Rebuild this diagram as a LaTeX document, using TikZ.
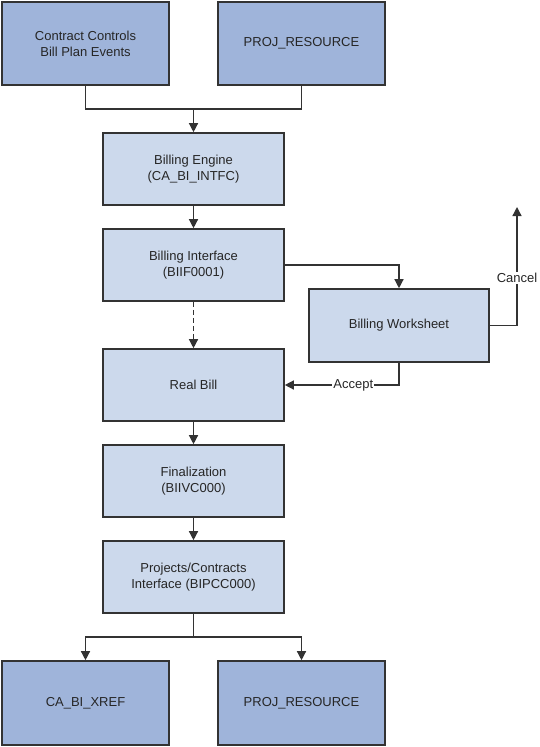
\documentclass[tikz,border=0pt]{standalone}
\usepackage{fontspec}
\setmainfont{Liberation Sans}
\usetikzlibrary{arrows.meta}

\definecolor{tabfill}{RGB}{159,180,218}
\definecolor{stepfill}{RGB}{204,217,236}
\definecolor{edgegray}{RGB}{51,51,51}

\tikzset{
    tablebox/.style={draw=edgegray, line width=1.6pt, fill=tabfill, minimum width=167pt, minimum height=83pt, align=center, inner sep=0pt},
    stepbox/.style={draw=edgegray, line width=1.6pt, fill=stepfill, minimum width=181pt, minimum height=72pt, align=center, inner sep=0pt},
    flow/.style={draw=edgegray, line width=1.3pt, -{Triangle[length=9pt,width=9pt]}},
    wire/.style={draw=edgegray, line width=1.3pt},
    tag/.style={fill=white, inner sep=1pt}
}

\begin{document}
\begin{tikzpicture}[x=1pt, y=-1pt, font=\fontsize{13}{16}\selectfont, text=black!85]
    \useasboundingbox (0,0) rectangle (539,747);

    % Quelltabellen oben
    \node[tablebox] (ccbp) at (85.5,43.5) {Contract Controls\\Bill Plan Events};
    \node[tablebox] (projtop) at (301.5,43.5) {PROJ\_RESOURCE};

    % Verarbeitungsschritte
    \node[stepbox] (engine) at (193.5,169) {Billing Engine\\(CA\_BI\_INTFC)};
    \node[stepbox] (bif) at (193.5,265) {Billing Interface\\(BIIF0001)};
    \node[stepbox, minimum width=180pt, minimum height=73pt] (work) at (399,325.5) {Billing Worksheet};
    \node[stepbox] (real) at (193.5,385) {Real Bill};
    \node[stepbox] (fin) at (193.5,481) {Finalization\\(BIIVC000)};
    \node[stepbox] (bipcc) at (193.5,577) {Projects/Contracts\\Interface (BIPCC000)};

    % Zieltabellen unten
    \node[tablebox, minimum height=84pt] (xref) at (85.5,703) {CA\_BI\_XREF};
    \node[tablebox, minimum height=84pt] (projbot) at (301.5,703) {PROJ\_RESOURCE};

    % Hilfspunkte
    \coordinate (merge) at (193.5,109);
    \coordinate (split) at (193.5,637);
    \coordinate (cancelend) at (517,207);

    % Verbindungen
    \draw[wire] (ccbp.south) |- (merge) -| (projtop.south);
    \draw[flow] (merge) -- (engine.north);
    \foreach \a/\b in {engine/bif, real/fin, fin/bipcc} {
        \draw[flow] (\a.south) -- (\b.north);
    }
    \draw[flow, dash pattern=on 5pt off 3pt] (bif.south) -- (real.north);
    \draw[flow] (bif.east) -| (work.north);
    \draw[flow] (work.east) -| node[tag, pos=0.7] {Cancel} (cancelend);
    \draw[flow] (work.south) |- node[tag, pos=0.7] {Accept} (real.east);
    \draw[wire] (bipcc.south) -- (split);
    \draw[flow] (split) -| (xref.north);
    \draw[flow] (split) -| (projbot.north);
\end{tikzpicture}
\end{document}
